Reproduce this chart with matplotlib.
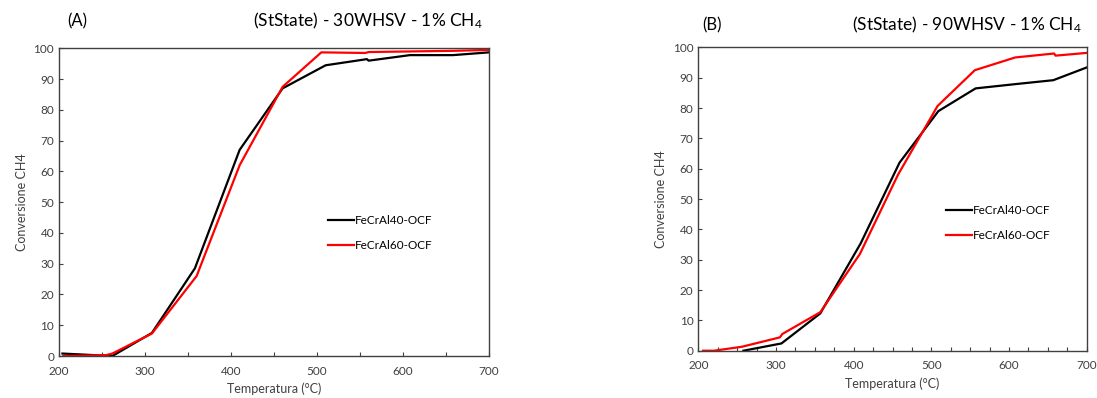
import matplotlib
matplotlib.use("Agg")
import matplotlib.pyplot as plt
from matplotlib.ticker import MultipleLocator

plt.rcParams['font.family'] = ['Lato', 'DejaVu Sans']
plt.rcParams['mathtext.default'] = 'regular'

# --- dati
# (A) 30WHSV
temp_a_40 = [204, 262, 308, 358, 410, 460, 510, 558, 560, 608, 658, 700]
conv_a_40 = [0.8, 0.0, 7.5, 28.5, 67.0, 87.0, 94.5, 96.5, 96.0, 97.8, 97.8, 98.7]
temp_a_60 = [205, 255, 262, 308, 360, 410, 460, 505, 556, 560, 608, 658, 700]
conv_a_60 = [0.0, 0.3, 0.8, 7.3, 26.0, 62.0, 87.5, 98.7, 98.5, 98.8, 99.0, 99.2, 99.5]

# (B) 90WHSV
temp_b_40 = [258, 307, 357, 409, 459, 509, 557, 608, 657, 700]
conv_b_40 = [0.0, 2.4, 12.3, 35.4, 62.0, 79.0, 86.5, 87.9, 89.2, 93.4]
temp_b_60 = [206, 220, 256, 305, 308, 357, 408, 457, 508, 556, 608, 658, 660, 700]
conv_b_60 = [0.0, 0.0, 1.3, 4.4, 5.5, 12.7, 31.9, 58.0, 80.7, 92.5, 96.7, 98.0, 97.3, 98.2]

serie_nomi = ['FeCrAl40-OCF', 'FeCrAl60-OCF']

fig = plt.figure(figsize=(10.97, 3.98), dpi=100)
ax1 = fig.add_axes([0.0538, 0.1055, 0.392, 0.773])
ax2 = fig.add_axes([0.6366, 0.1188, 0.354, 0.762])


def stile_assi(ax, minor_x):
    ax.set_xlim(200, 700)
    ax.set_ylim(0, 100)
    ax.xaxis.set_major_locator(MultipleLocator(100))
    ax.xaxis.set_minor_locator(MultipleLocator(minor_x))
    ax.yaxis.set_major_locator(MultipleLocator(10))
    ax.tick_params(axis='both', which='both', direction='in', labelsize=8.5,
                   colors='#404040', length=3, width=0.8)
    ax.tick_params(axis='x', which='minor', length=3)
    ax.tick_params(axis='x', pad=7)
    for s in ax.spines.values():
        s.set_color('#404040')
        s.set_linewidth(1.0)
    ax.set_xlabel('Temperatura (°C)', fontsize=9, color='#404040')
    ax.set_ylabel('Conversione CH4', fontsize=9, color='#404040')


ax1.plot(temp_a_40, conv_a_40, color='black', lw=1.6, label=serie_nomi[0])
ax1.plot(temp_a_60, conv_a_60, color='#ff0000', lw=1.6, label=serie_nomi[1])
stile_assi(ax1, 50)
ax1.legend(loc='center left', bbox_to_anchor=(0.6, 0.40), frameon=False,
           fontsize=8.5, handlelength=2.2, handletextpad=0.1, labelspacing=1.2)

ax2.plot(temp_b_40, conv_b_40, color='black', lw=1.6, label=serie_nomi[0])
ax2.plot(temp_b_60, conv_b_60, color='#ff0000', lw=1.6, label=serie_nomi[1])
stile_assi(ax2, 25)
ax2.legend(loc='center left', bbox_to_anchor=(0.61, 0.42), frameon=False,
           fontsize=8.5, handlelength=2.2, handletextpad=0.1, labelspacing=1.2)

# titoli dei pannelli
fig.text(77 / 1097, 1 - 21 / 398, '(A)', fontsize=12, ha='center', va='center')
fig.text(483 / 1097, 1 - 21 / 398, '(StState) - 30WHSV - 1% CH$_4$', fontsize=12.5,
         ha='right', va='center')
fig.text(712 / 1097, 1 - 25 / 398, '(B)', fontsize=12, ha='center', va='center')
fig.text(1082 / 1097, 1 - 25 / 398, '(StState) - 90WHSV - 1% CH$_4$', fontsize=12.5,
         ha='right', va='center')

fig.savefig('out.png', dpi=100)
